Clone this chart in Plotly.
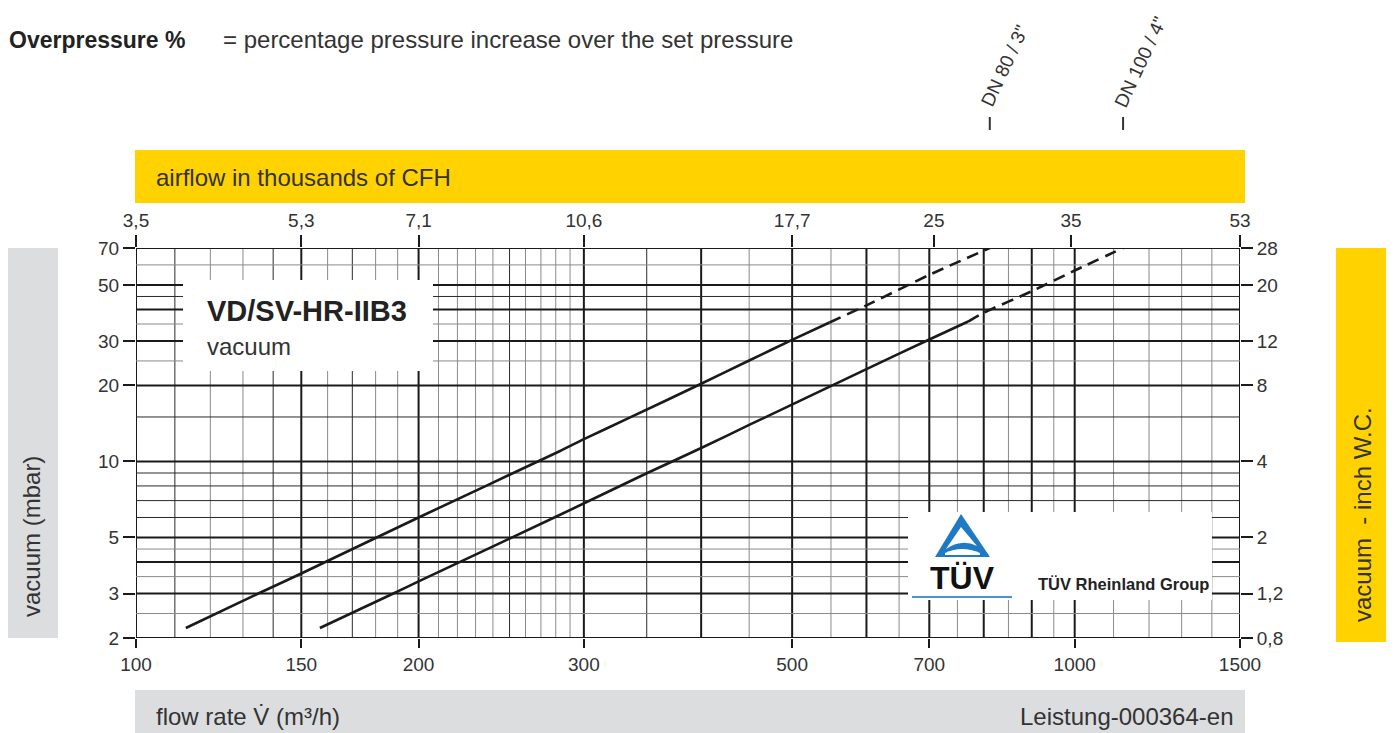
import plotly.graph_objects as go

# ---------------- data ----------------
flow_dn80_solid = [113, 135, 150, 200, 283, 300, 333, 400, 450, 500, 548]
vac_dn80_solid = [2.19, 3.0, 3.6, 6.0, 11.0, 12.25, 14.7, 20.3, 25.1, 30.3, 35.5]
flow_dn80_dash = [548, 600, 700, 812]
vac_dn80_dash = [35.5, 41.5, 54.8, 70.0]

flow_dn100_solid = [157, 188, 200, 283, 350, 400, 450, 600, 700, 770]
vac_dn100_solid = [2.19, 3.0, 3.35, 6.15, 8.98, 11.3, 13.95, 23.2, 30.4, 35.8]
flow_dn100_dash = [770, 800, 900, 1000, 1126]
vac_dn100_dash = [35.8, 38.8, 47.2, 57.0, 70.0]

x_tickvals = [100, 150, 200, 300, 500, 700, 1000, 1500]
x_ticktext = ["100", "150", "200", "300", "500", "700", "1000", "1500"]
cfh_tickvals = [100, 150, 200, 300, 500, 708, 991, 1500]
cfh_ticktext = ["3,5", "5,3", "7,1", "10,6", "17,7", "25", "35", "53"]
y_tickvals = [2, 3, 5, 10, 20, 30, 50, 70]
y_ticktext = ["2", "3", "5", "10", "20", "30", "50", "70"]
inwc_ticktext = ["0,8", "1,2", "2", "4", "8", "12", "20", "28"]

x_grid_major = [100, 150, 200, 300, 400, 500, 600, 700, 800, 900, 1000, 1500]
x_grid_mid = [110, 140, 170, 250, 350]
x_grid_minor = [120, 130, 160, 180, 190, 210, 220, 230, 240, 260, 270, 280, 290,
                450, 550, 650, 750, 850, 950, 1100, 1200, 1300, 1400]
y_grid_major = [2, 3, 4, 5, 10, 20, 30, 40, 50, 70]
y_grid_mid = [6, 7, 8, 9, 15, 45]
y_grid_minor = [2.5, 3.5, 4.5, 25, 35, 60]

series_names = ["DN 80 / 3\"", "DN 100 / 4\""]
title_main = "VD/SV-HR-IIB3"
title_sub = "vacuum"

# ---------------- layout helpers (page pixel coordinates) ----------------
OFF = 8                     # default body margin of the html page
W, H = 1394 - OFF, 733 - OFF
L, R, T, B = 136, 1240, 248, 638
def px(x):
    return (x - L) / (R - L)
def py(y):
    return (B - y) / (B - T)

FONT = "Liberation Sans, Arial, sans-serif"
TXT = "#333333"
YEL = "#FFD200"
GRY = "#DCDDDF"
LINEC = "#1a1a1a"

fig = go.Figure()

for xs, ys, dash in [(flow_dn80_solid, vac_dn80_solid, "solid"),
                     (flow_dn80_dash, vac_dn80_dash, "12px,7px"),
                     (flow_dn100_solid, vac_dn100_solid, "solid"),
                     (flow_dn100_dash, vac_dn100_dash, "12px,7px")]:
    fig.add_trace(go.Scatter(x=xs, y=ys, mode="lines",
                             line=dict(color=LINEC, width=2.6, dash=dash, shape="spline", smoothing=0.6),
                             showlegend=False, hoverinfo="skip"))

# empty trace to activate secondary axes
fig.add_trace(go.Scatter(x=[], y=[], xaxis="x2", yaxis="y2", showlegend=False))

shapes = []
for vals, col, w in [(x_grid_minor, "#8a8a8a", 1), (x_grid_mid, "#2a2a2a", 1), (x_grid_major, "#1a1a1a", 2)]:
    for v in vals:
        shapes.append(dict(type="line", xref="x", yref="paper", x0=v, x1=v, y0=0, y1=1,
                           line=dict(color=col, width=w), layer="below"))
for vals, col, w in [(y_grid_minor, "#8a8a8a", 1), (y_grid_mid, "#2a2a2a", 1), (y_grid_major, "#1a1a1a", 2)]:
    for v in vals:
        shapes.append(dict(type="line", xref="paper", yref="y", x0=0, x1=1, y0=v, y1=v,
                           line=dict(color=col, width=w), layer="below"))

# white boxes covering the grid
shapes.append(dict(type="rect", xref="paper", yref="paper", x0=px(183), x1=px(433), y0=py(371), y1=py(280),
                   fillcolor="white", line=dict(width=0), layer="below"))
shapes.append(dict(type="rect", xref="paper", yref="paper", x0=px(908), x1=px(1212), y0=py(600), y1=py(512),
                   fillcolor="white", line=dict(width=0), layer="below"))

# coloured bands
shapes.append(dict(type="rect", xref="paper", yref="paper", x0=px(135), x1=px(1245), y0=py(203), y1=py(150),
                   fillcolor=YEL, line=dict(width=0)))
shapes.append(dict(type="rect", xref="paper", yref="paper", x0=px(135), x1=px(1245), y0=py(740), y1=py(690),
                   fillcolor=GRY, line=dict(width=0)))
shapes.append(dict(type="rect", xref="paper", yref="paper", x0=px(5), x1=px(58), y0=py(638), y1=py(248),
                   fillcolor=GRY, line=dict(width=0)))
shapes.append(dict(type="rect", xref="paper", yref="paper", x0=px(1336), x1=px(1389), y0=py(642), y1=py(248),
                   fillcolor=YEL, line=dict(width=0)))

# end-of-curve marks above the chart
for xe in [flow_dn80_dash[-1], flow_dn100_dash[-1]]:
    shapes.append(dict(type="line", xref="x", yref="paper", x0=xe, x1=xe, y0=py(130), y1=py(117),
                       line=dict(color="#333333", width=2)))

# TÜV logo: triangle + swoosh + underline
def P(x, y):
    return f"{px(x):.5f},{py(y):.5f}"
tri = f"M {P(961,514)} L {P(935,557)} L {P(990,557)} Z"
shapes.append(dict(type="path", xref="paper", yref="paper", path=tri, fillcolor="#1f7ac4", line=dict(width=0)))
inner = f"M {P(961,527)} L {P(946,549)} Q {P(962,538)} {P(977,546)} Z"
shapes.append(dict(type="path", xref="paper", yref="paper", path=inner, fillcolor="white", line=dict(width=0)))
inner2 = f"M {P(945,553)} Q {P(962,545)} {P(980,553)} L {P(980,555)} L {P(945,555)} Z"
shapes.append(dict(type="path", xref="paper", yref="paper", path=inner2, fillcolor="white", line=dict(width=0)))
shapes.append(dict(type="line", xref="paper", yref="paper", x0=px(912), x1=px(1012), y0=py(597), y1=py(597),
                   line=dict(color="#4a94d6", width=2)))

annotations = []
def ann(text, x, y, size, xanchor="left", yanchor="middle", angle=0, color=TXT):
    annotations.append(dict(text=text, x=px(x), y=py(y), xref="paper", yref="paper", showarrow=False,
                            xanchor=xanchor, yanchor=yanchor, textangle=angle,
                            font=dict(family=FONT, size=size, color=color)))

ann("<b>Overpressure %</b>", 7, 40, 23, color="#222222")
ann("= percentage pressure increase over the set pressure", 221, 40, 24)
ann("airflow in thousands of CFH", 154, 177, 24)
ann("flow rate V\u0307 (m³/h)", 154, 716, 24)
ann("Leistung-000364-en", 1236, 716, 24, xanchor="right")
ann("vacuum (mbar)", 31, 537, 24, xanchor="center", angle=-90)
ann("vacuum \u00a0- inch W.C.", 1362, 515, 24, xanchor="center", angle=-90)
ann(f"<b>{title_main}</b>", 205, 311, 29, color="#222222")
ann(title_sub, 205, 346, 24)
ann(series_names[0], 1004, 66, 19, xanchor="center", angle=-65)
ann(series_names[1], 1141, 62, 19, xanchor="center", angle=-65)
ann("<b>TÜV</b>", 962, 578, 32, xanchor="center", color="#111111")
ann("<b>TÜV Rheinland Group</b>", 1036, 584, 16.5, color="#222222")

tickfont = dict(family=FONT, size=19, color=TXT)
fig.update_layout(
    width=W, height=H,
    margin=dict(l=L - OFF, r=1394 - R, t=T - OFF, b=733 - B, pad=0),
    paper_bgcolor="white", plot_bgcolor="white",
    showlegend=False,
    xaxis=dict(type="log", range=[2, 3.176091259], tickmode="array", tickvals=x_tickvals, ticktext=x_ticktext,
               ticks="outside", ticklen=9, tickwidth=2, tickcolor="#1a1a1a", showgrid=False, zeroline=False,
               showline=False, tickfont=tickfont, fixedrange=True),
    xaxis2=dict(type="log", range=[2, 3.176091259], overlaying="x", side="top", anchor="y2",
                tickmode="array", tickvals=cfh_tickvals, ticktext=cfh_ticktext,
                ticks="outside", ticklen=12, tickwidth=2, tickcolor="#1a1a1a", showgrid=False, zeroline=False,
                showline=False, tickfont=tickfont),
    yaxis=dict(type="log", range=[0.301029996, 1.84509804], tickmode="array", tickvals=y_tickvals,
               ticktext=y_ticktext, ticks="outside", ticklen=12, tickwidth=2, tickcolor="#1a1a1a",
               showgrid=False, zeroline=False, showline=False, tickfont=tickfont),
    yaxis2=dict(type="log", range=[0.301029996, 1.84509804], overlaying="y", side="right", anchor="x2",
                tickmode="array", tickvals=y_tickvals, ticktext=inwc_ticktext,
                ticks="outside", ticklen=12, tickwidth=2, tickcolor="#1a1a1a",
                showgrid=False, zeroline=False, showline=False, tickfont=tickfont),
    shapes=shapes,
    annotations=annotations,
)

fig.write_html("out.html")
